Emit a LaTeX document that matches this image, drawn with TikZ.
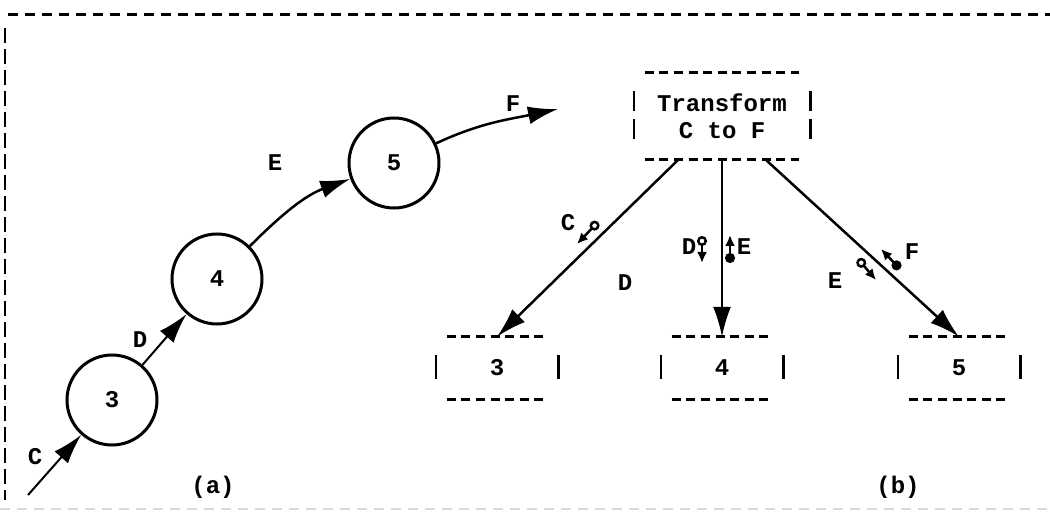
\documentclass[tikz,border=0pt]{standalone}
\usepackage{fontspec}
\setmainfont{Liberation Mono}
\usetikzlibrary{arrows.meta}

\begin{document}
\begin{tikzpicture}[x=1pt,y=-1pt,line width=2.5pt,
font=\fontsize{24}{27}\selectfont\bfseries,
bubble/.style={circle,draw,line width=3pt,minimum size=90pt,inner sep=0pt},
module/.style={rectangle,inner sep=0pt,minimum width=152pt,minimum height=85pt,align=center},
leaf/.style={rectangle,inner sep=0pt,minimum width=98pt,minimum height=60pt},
flow/.style={-{Latex[length=30pt,width=18pt]}},
hyph/.style={line width=3pt,dash pattern=on 9pt off 5.6pt},
bar/.style={line width=2.5pt},
dcouple/.style={{Circle[open,length=10pt]}-{Latex[length=11pt,width=10pt]},line width=2.5pt},
fcouple/.style={{Circle[length=10pt]}-{Latex[length=11pt,width=10pt]},line width=2.5pt}]

\useasboundingbox (0,0) rectangle (1050,513);

% frame
\draw[line width=3pt,dash pattern=on 10pt off 7pt] (8,15) -- (1050,15);
\draw[line width=2pt,dash pattern=on 15pt off 6pt] (5,28) -- (5,500);
\draw[gray!30,line width=2pt,dash pattern=on 10pt off 7pt] (0,509) -- (1050,509);

% (a) chain of processes
\draw (112,400) node[bubble] (P3) {3};
\draw (217,279) node[bubble] (P4) {4};
\draw (394,163) node[bubble] (P5) {5};
\coordinate (Cin) at (28,495);
\coordinate (Fout) at (558,109);

\draw[flow,line width=2pt] (Cin) -- (P3);
\draw[flow,line width=2pt] (P3) -- (P4);
\draw[flow] (P4) to[out=45,in=200] (P5);
\draw[flow] (P5) to[out=25,in=192] (Fout);
\draw (35,457) node (LC) {C};
\draw (140,340) node (LD) {D};
\draw (275,163) node (LE) {E};
\draw (513,104) node (LF) {F};
\draw (213,487) node (La) {(a)};

% (b) transform module and its subordinates
\draw (722,116) node[module] (T) {Transform\\C to F};
\draw[hyph] (T.north west) -- (T.north east);
\draw[hyph] (T.south west) -- (T.south east);
\draw[bar] (T.north west) ++(-11,19) -- ++(0,20);
\draw[bar] (T.north west) ++(-11,47) -- ++(0,20);
\draw[bar] (T.north east) ++(11,19) -- ++(0,20);
\draw[bar] (T.north east) ++(11,47) -- ++(0,20);

\draw (497,368) node[leaf] (B3) {3};
\draw (722,368) node[leaf] (B4) {4};
\draw (959,368) node[leaf] (B5) {5};
\draw[hyph] (B3.north west) -- (B3.north east);
\draw[hyph] (B3.south west) -- (B3.south east);
\draw[bar] (B3.north west) ++(-11,18) -- ++(0,24);
\draw[bar] (B3.north east) ++(11,18) -- ++(0,24);
\draw[hyph] (B4.north west) -- (B4.north east);
\draw[hyph] (B4.south west) -- (B4.south east);
\draw[bar] (B4.north west) ++(-11,18) -- ++(0,24);
\draw[bar] (B4.north east) ++(11,18) -- ++(0,24);
\draw[hyph] (B5.north west) -- (B5.north east);
\draw[hyph] (B5.south west) -- (B5.south east);
\draw[bar] (B5.north west) ++(-11,18) -- ++(0,24);
\draw[bar] (B5.north east) ++(11,18) -- ++(0,24);

\draw[flow] (T.225) -- (B3.north);
\draw[flow,line width=1.8pt] (T.south) -- (B4.north);
\draw[flow] (T.315) -- (B5.north);

% couples
\draw (568,223) node (LC2) {C};
\draw[dcouple] (598,222) -- (577,244);
\draw (625,283) node (LD2) {D};
\draw (689,247) node (LD3) {D};
\draw[dcouple] (702,236) -- (702,263);
\draw[fcouple] (730,263) -- (730,235);
\draw (744,247) node (LE3) {E};
\draw (835,281) node (LE4) {E};
\draw[dcouple] (858,259) -- (876,280);
\draw[fcouple] (900,269) -- (881,249);
\draw (912,252) node (LF2) {F};
\draw (898,487) node (Lb) {(b)};

\end{tikzpicture}
\end{document}
